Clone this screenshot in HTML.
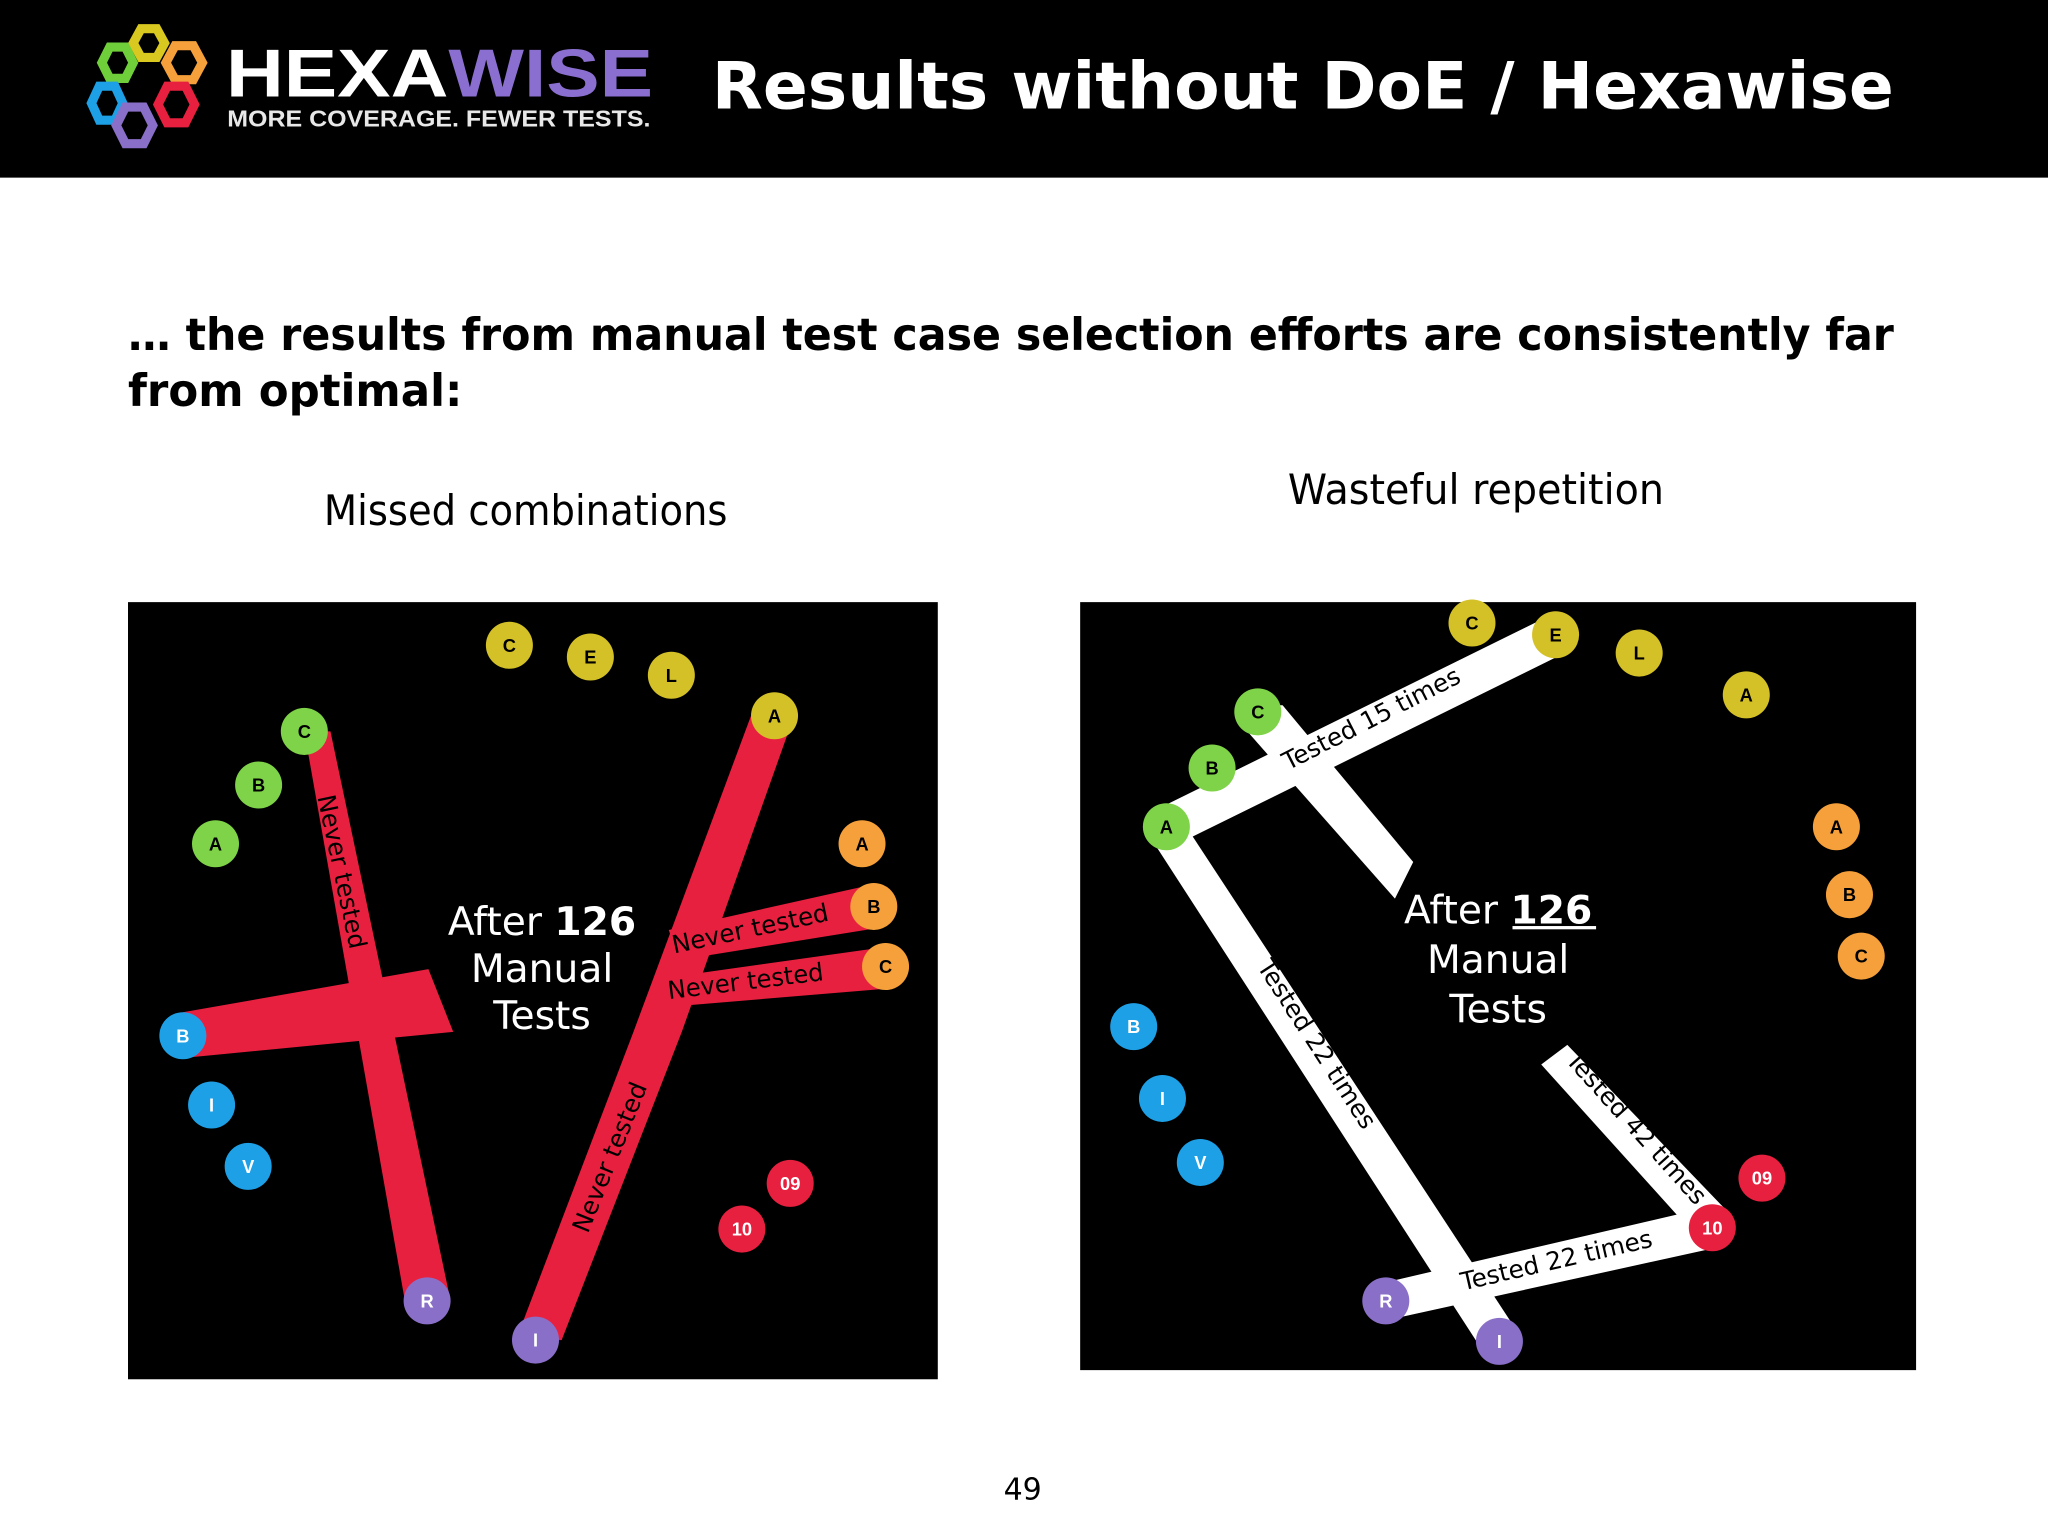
<!DOCTYPE html>
<html><head><meta charset="utf-8"><style>
html,body{margin:0;padding:0;background:#fff;}
svg{display:block;}
.g{font-family:"DejaVu Sans","Liberation Sans",sans-serif;}
.lb{font-family:"Liberation Sans",sans-serif;font-weight:bold;font-size:14px;fill:#000;text-anchor:middle;}
.lbw{font-family:"Liberation Sans",sans-serif;font-weight:bold;font-size:14px;fill:#fff;text-anchor:middle;}
</style></head><body>
<svg width="2048" height="1536" viewBox="0 0 1568 1176" xmlns="http://www.w3.org/2000/svg">
<rect x="0" y="0" width="1568" height="136" fill="#000"/>
<g fill="none" stroke-width="7">
<polygon points="108,22 120,22 126,33 120,44 108,44 102,33" stroke="#d8c820"/>
<polygon points="84,36 96,36 102,48 96,60 84,60 78,48" stroke="#6fcf3a"/>
<polygon points="134,35 148,35 155,48 148,61 134,61 127,48" stroke="#f5a03a"/>
<polygon points="76,66 88,66 94,79 88,92 76,92 70,79" stroke="#1ea0e6"/>
<polygon points="128,66 142,66 149,80 142,94 128,94 121,80" stroke="#e8203f"/>
<polygon points="96,82 110,82 117,96 110,110 96,110 89,96" stroke="#8a6fc8"/>
</g>
<text x="173" y="74" textLength="327" lengthAdjust="spacingAndGlyphs" font-family="Liberation Sans,sans-serif" font-weight="bold" font-size="52" fill="#fff">HEXA<tspan fill="#8a6fd0">WISE</tspan></text>
<text x="174" y="97" textLength="324" lengthAdjust="spacingAndGlyphs" font-family="Liberation Sans,sans-serif" font-weight="bold" font-size="17.5" fill="#e8e8e8">MORE COVERAGE. FEWER TESTS.</text>
<text x="545" y="83" textLength="905" lengthAdjust="spacingAndGlyphs" font-family="DejaVu Sans,sans-serif" font-weight="bold" font-size="50" fill="#fff">Results without DoE / Hexawise</text>
<text x="98" y="268" textLength="1352" lengthAdjust="spacingAndGlyphs" font-family="DejaVu Sans,sans-serif" font-weight="bold" font-size="34" fill="#000">… the results from manual test case selection efforts are consistently far</text>
<text x="98" y="311" textLength="256" lengthAdjust="spacingAndGlyphs" font-family="DejaVu Sans,sans-serif" font-weight="bold" font-size="34" fill="#000">from optimal:</text>
<text x="248" y="402" textLength="309" lengthAdjust="spacingAndGlyphs" class="g" font-size="32" fill="#000">Missed combinations</text>
<text x="986" y="386" textLength="288" lengthAdjust="spacingAndGlyphs" class="g" font-size="32" fill="#000">Wasteful repetition</text>

<g>
<rect x="98" y="461" width="620" height="595" fill="#000"/>
<g fill="#e8203f">
<polygon points="233,560 253,560 345,996 310,996"/>
<polygon points="140,775 328,742 347,790 140,810"/>
<polygon points="575,548 608,548 522,790 430,1026 395,1026 485,790"/>
<polygon points="512,712 669,677 669,711 520,735"/>
<polygon points="500,750 678,725 678,757 498,772"/>
</g>
<text transform="translate(243,610) rotate(78)" textLength="120" lengthAdjust="spacingAndGlyphs" class="g" font-size="19" fill="#000">Never tested</text>
<text transform="translate(516,730) rotate(-12)" textLength="122" lengthAdjust="spacingAndGlyphs" class="g" font-size="19" fill="#000">Never tested</text>
<text transform="translate(512,765) rotate(-7)" textLength="120" lengthAdjust="spacingAndGlyphs" class="g" font-size="19" fill="#000">Never tested</text>
<text transform="translate(450,945) rotate(-68)" textLength="122" lengthAdjust="spacingAndGlyphs" class="g" font-size="19" fill="#000">Never tested</text>
<g class="g" fill="#fff" font-size="30" text-anchor="middle">
<text x="415" y="716">After <tspan font-weight="bold">126</tspan></text>
<text x="415" y="752">Manual</text>
<text x="415" y="788">Tests</text>
</g>
</g>

<g>
<rect x="827" y="461" width="640" height="588" fill="#000"/>
<g fill="#fff">
<polygon points="885,620 1185,472 1198,500 900,647"/>
<polygon points="960,540 982,540 1082,660 1068,688 955,560"/>
<polygon points="880,640 905,628 1162,1020 1135,1034"/>
<polygon points="1060,982 1305,925 1315,955 1065,1010"/>
<polygon points="1180,815 1200,800 1325,930 1300,948"/>
</g>
<text transform="translate(986,590) rotate(-27)" textLength="150" lengthAdjust="spacingAndGlyphs" class="g" font-size="19" fill="#000">Tested 15 times</text>
<text transform="translate(962,740) rotate(57)" textLength="150" lengthAdjust="spacingAndGlyphs" class="g" font-size="19" fill="#000">Tested 22 times</text>
<text transform="translate(1120,988) rotate(-13)" textLength="150" lengthAdjust="spacingAndGlyphs" class="g" font-size="19" fill="#000">Tested 22 times</text>
<text transform="translate(1198,812) rotate(48)" textLength="150" lengthAdjust="spacingAndGlyphs" class="g" font-size="19" fill="#000">Tested 42 times</text>
<g class="g" fill="#fff" font-size="30" text-anchor="middle">
<text x="1147" y="707">After <tspan font-weight="bold">126</tspan></text>
<rect x="1158" y="709" width="64" height="2.5" fill="#fff"/>
<text x="1147" y="745">Manual</text>
<text x="1147" y="783">Tests</text>
</g>
</g>

<g>
<g fill="#7ed348"><circle cx="233" cy="560" r="18"/><circle cx="198" cy="601" r="18"/><circle cx="165" cy="646" r="18"/><circle cx="963" cy="545" r="18"/><circle cx="928" cy="588" r="18"/><circle cx="893" cy="633" r="18"/></g>
<g fill="#d4c027"><circle cx="390" cy="494" r="18"/><circle cx="452" cy="503" r="18"/><circle cx="514" cy="517" r="18"/><circle cx="593" cy="548" r="18"/><circle cx="1127" cy="477" r="18"/><circle cx="1191" cy="486" r="18"/><circle cx="1255" cy="500" r="18"/><circle cx="1337" cy="532" r="18"/></g>
<g fill="#f5a03a"><circle cx="660" cy="646" r="18"/><circle cx="669" cy="694" r="18"/><circle cx="678" cy="740" r="18"/><circle cx="1406" cy="633" r="18"/><circle cx="1416" cy="685" r="18"/><circle cx="1425" cy="732" r="18"/></g>
<g fill="#1ea0e6"><circle cx="140" cy="793" r="18"/><circle cx="162" cy="846" r="18"/><circle cx="190" cy="893" r="18"/><circle cx="868" cy="786" r="18"/><circle cx="890" cy="841" r="18"/><circle cx="919" cy="890" r="18"/></g>
<g fill="#e8203f"><circle cx="605" cy="906" r="18"/><circle cx="568" cy="941" r="18"/><circle cx="1349" cy="902" r="18"/><circle cx="1311" cy="940" r="18"/></g>
<g fill="#8a6fc8"><circle cx="327" cy="996" r="18"/><circle cx="410" cy="1026" r="18"/><circle cx="1061" cy="996" r="18"/><circle cx="1148" cy="1027" r="18"/></g>
</g>
<g>
<text x="233" y="565" class="lb">C</text><text x="198" y="606" class="lb">B</text><text x="165" y="651" class="lb">A</text>
<text x="390" y="499" class="lb">C</text><text x="452" y="508" class="lb">E</text><text x="514" y="522" class="lb">L</text><text x="593" y="553" class="lb">A</text>
<text x="660" y="651" class="lb">A</text><text x="669" y="699" class="lb">B</text><text x="678" y="745" class="lb">C</text>
<text x="140" y="798" class="lbw">B</text><text x="162" y="851" class="lbw">I</text><text x="190" y="898" class="lbw">V</text>
<text x="605" y="911" class="lbw">09</text><text x="568" y="946" class="lbw">10</text>
<text x="327" y="1001" class="lbw">R</text><text x="410" y="1031" class="lbw">I</text>
<text x="963" y="550" class="lb">C</text><text x="928" y="593" class="lb">B</text><text x="893" y="638" class="lb">A</text>
<text x="1127" y="482" class="lb">C</text><text x="1191" y="491" class="lb">E</text><text x="1255" y="505" class="lb">L</text><text x="1337" y="537" class="lb">A</text>
<text x="1406" y="638" class="lb">A</text><text x="1416" y="690" class="lb">B</text><text x="1425" y="737" class="lb">C</text>
<text x="868" y="791" class="lbw">B</text><text x="890" y="846" class="lbw">I</text><text x="919" y="895" class="lbw">V</text>
<text x="1349" y="907" class="lbw">09</text><text x="1311" y="945" class="lbw">10</text>
<text x="1061" y="1001" class="lbw">R</text><text x="1148" y="1032" class="lbw">I</text>
</g>
<text x="783" y="1148" class="g" font-size="23" fill="#000" text-anchor="middle">49</text>
</svg>
</body></html>
